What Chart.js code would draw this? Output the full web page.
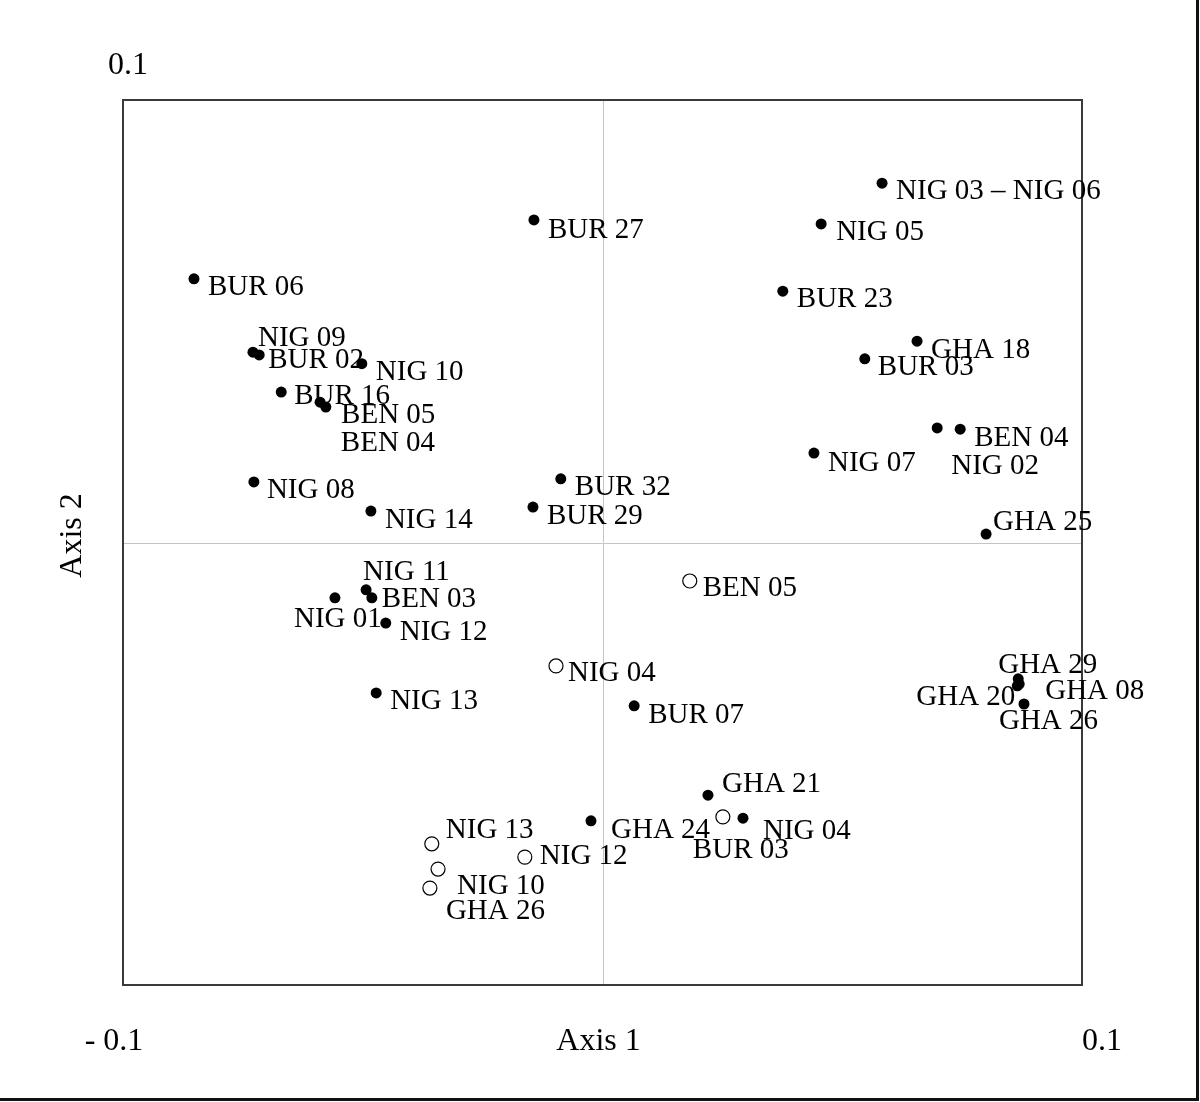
<!DOCTYPE html>
<html><head><meta charset="utf-8">
<script src="https://cdn.jsdelivr.net/npm/chart.js@4.4.0/dist/chart.umd.min.js"></script>
<style>html,body{margin:0;padding:0;background:#fff;}#wrap{width:1200px;height:1102px;position:relative;}</style>
</head><body><div id="wrap"><canvas id="c" width="1200" height="1102"></canvas></div>
<script>
// ---- data ----
const filledLabels = ['NIG 03 – NIG 06','NIG 05','BUR 27','BUR 06','BUR 23','GHA 18','BUR 03','NIG 09','BUR 02','NIG 10','BUR 16','BEN 05','BEN 04','NIG 08','NIG 14','NIG 02','BEN 04','NIG 07','BUR 32','BUR 29','GHA 25','NIG 11','BEN 03','NIG 01','NIG 12','NIG 13','BUR 07','GHA 29','GHA 08','GHA 20','GHA 26','GHA 21','NIG 04','GHA 24'];
const filledX = [0.0583,0.0456,-0.0143,-0.0852,0.0376,0.0656,0.0547,-0.0729,-0.0716,-0.0502,-0.0670,-0.0589,-0.0577,-0.0727,-0.0483,0.0698,0.0746,0.0441,-0.0087,-0.0145,0.0800,-0.0493,-0.0481,-0.0558,-0.0452,-0.0472,0.0066,0.0867,0.0869,0.0865,0.0879,0.0220,0.0293,-0.0024];
const filledY = [0.0812,0.0720,0.0729,0.0596,0.0568,0.0455,0.0415,0.0430,0.0424,0.0404,0.0340,0.0317,0.0306,0.0137,0.0071,0.0259,0.0256,0.0202,0.0144,0.0080,0.0019,-0.0107,-0.0125,-0.0125,-0.0182,-0.0340,-0.0369,-0.0308,-0.0320,-0.0324,-0.0365,-0.0571,-0.0623,-0.0629];
const openLabels = ['BEN 05','NIG 04','BUR 03','NIG 12','NIG 13','NIG 10','GHA 26'];
const openX = [0.0182,-0.0097,0.0251,-0.0162,-0.0356,-0.0343,-0.0360];
const openY = [-0.0087,-0.0279,-0.0620,-0.0711,-0.0681,-0.0738,-0.0781];
const axisMin = -0.1, axisMax = 0.1;
const tickLabels = ['- 0.1','0.1','0.1'];
const axisTitles = ['Axis 1','Axis 2'];

// ---- label placement (pixel offsets from each point) ----
const filledLabelOffsets = [[14,6],[15,6],[14,8],[14,7],[14,6],[14,7],[13,7],[5,-16],[9,4],[14,7],[13,2],[21,11],[15,34],[13,7],[14,7],[14,36],[14,7],[14,8],[14,7],[14,7],[7,-14],[-3,-19],[10,0],[-41,20],[14,7],[14,6],[14,8],[-20,-15],[26,5],[-101,10],[-25,15],[14,-13],[20,11],[20,8]];
const openLabelOffsets = [[13,5],[12,5],[-30,32],[15,-3],[14,-15],[19,15],[16,21]];

const FONT = '"Liberation Serif", "Times New Roman", serif';

const decor = {
  id: 'decor',
  beforeDatasetsDraw(chart) {
    const {ctx, chartArea: a, scales} = chart;
    const x0 = Math.round(scales.x.getPixelForValue(0)) + 0.5;
    const y0 = Math.round(scales.y.getPixelForValue(0)) + 0.5;
    ctx.save();
    ctx.strokeStyle = '#c4c4c4';
    ctx.lineWidth = 1;
    ctx.beginPath();
    ctx.moveTo(x0, a.top); ctx.lineTo(x0, a.bottom);
    ctx.moveTo(a.left, y0); ctx.lineTo(a.right, y0);
    ctx.stroke();
    ctx.restore();
  },
  afterDraw(chart) {
    const {ctx, chartArea: a, scales} = chart;
    ctx.save();
    // frame
    ctx.strokeStyle = '#3a3a3a';
    ctx.lineWidth = 2;
    ctx.strokeRect(a.left, a.top, a.right - a.left, a.bottom - a.top);
    // outer border (right & bottom)
    ctx.strokeStyle = '#111';
    ctx.lineWidth = 3;
    ctx.beginPath();
    ctx.moveTo(1197.5, 0); ctx.lineTo(1197.5, 1100.5);
    ctx.moveTo(0, 1099.5); ctx.lineTo(1199, 1099.5);
    ctx.stroke();
    // point labels
    ctx.fillStyle = '#000';
    ctx.font = '29px ' + FONT;
    ctx.textAlign = 'left';
    ctx.textBaseline = 'middle';
    const drawSet = (idx, labels, offs) => {
      const meta = chart.getDatasetMeta(idx);
      meta.data.forEach((pt, i) => {
        ctx.fillText(labels[i], pt.x + offs[i][0], pt.y + offs[i][1] + 2);
      });
    };
    drawSet(0, filledLabels, filledLabelOffsets);
    drawSet(1, openLabels, openLabelOffsets);
    // axis texts
    ctx.font = '32px ' + FONT;
    ctx.textAlign = 'center';
    const yb = a.bottom + 57;
    ctx.fillText(tickLabels[0], a.left - 9, yb);
    ctx.fillText(tickLabels[1], a.right + 20, yb);
    ctx.fillText(tickLabels[2], a.left + 5, a.top - 34);
    ctx.fillText(axisTitles[0], scales.x.getPixelForValue(0) - 4, yb);
    ctx.translate(73, scales.y.getPixelForValue(0) - 7);
    ctx.rotate(-Math.PI / 2);
    ctx.fillText(axisTitles[1], 0, 0);
    ctx.restore();
  }
};

const toPts = (xs, ys) => xs.map((x, i) => ({x, y: ys[i]}));

new Chart(document.getElementById('c'), {
  type: 'scatter',
  data: {
    datasets: [
      {data: toPts(filledX, filledY), pointRadius: 5.5, pointHoverRadius: 5.5, backgroundColor: '#000', borderColor: '#000', borderWidth: 0, showLine: false, clip: false},
      {data: toPts(openX, openY), pointRadius: 7, pointHoverRadius: 7, backgroundColor: '#fff', borderColor: '#000', borderWidth: 1.2, showLine: false, clip: false}
    ]
  },
  options: {
    responsive: false,
    animation: false,
    events: [],
    layout: {padding: {left: 123, top: 100, right: 118, bottom: 117}},
    plugins: {legend: {display: false}, tooltip: {enabled: false}},
    scales: {
      x: {type: 'linear', min: axisMin, max: axisMax, display: false},
      y: {type: 'linear', min: axisMin, max: axisMax, display: false}
    }
  },
  plugins: [decor]
});
</script>
</body></html>
